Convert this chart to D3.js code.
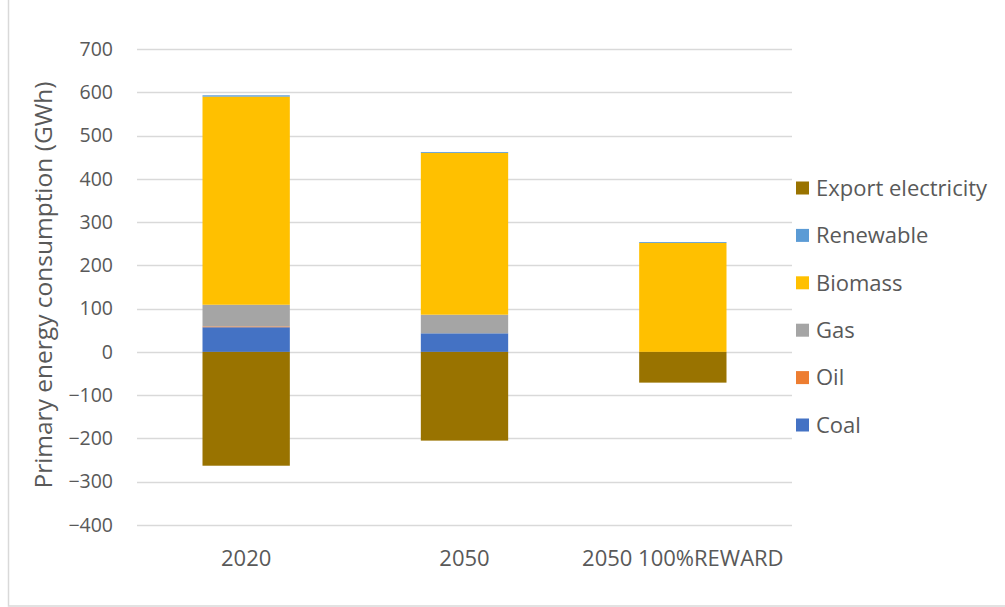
<!DOCTYPE html>
<html>
<head>
<meta charset="utf-8">
<script src="https://cdn.jsdelivr.net/npm/d3@7"></script>
<style>
  html, body { margin: 0; padding: 0; background: #fff; }
  svg { display: block; }
  text { font-family: "Open Sans", "Noto Sans", sans-serif; fill: #595959; }
</style>
</head>
<body>
<svg id="chart" width="1005" height="607"></svg>
<script>
// Scenarios on the x axis
const categories = ["2020", "2050", "2050 100%REWARD"];

// Primary energy consumption per source (GWh)
const coal       = [57, 43, 0];
const oil        = [2, 0, 0];
const gas        = [50, 43, 0];
const biomass    = [481, 374, 252];
const renewable  = [3, 2, 2];
const exportElec = [-263, -205, -71];

const yTicks = [-400, -300, -200, -100, 0, 100, 200, 300, 400, 500, 600, 700];

const seriesNames  = ["Coal", "Oil", "Gas", "Biomass", "Renewable", "Export electricity"];
const seriesColors = ["#4472C4", "#ED7D31", "#A5A5A5", "#FFC000", "#5B9BD5", "#997300"];
const seriesValues = [coal, oil, gas, biomass, renewable, exportElec];

const rows = categories.map((c, i) => {
  const r = { category: c };
  seriesNames.forEach((n, k) => { r[n] = seriesValues[k][i]; });
  return r;
});

const svg = d3.select("#chart");

// outer chart frame
svg.append("rect")
  .attr("x", 8.5).attr("y", -5)
  .attr("width", 1010).attr("height", 611)
  .attr("fill", "none").attr("stroke", "#D9D9D9").attr("stroke-width", 1.5);

const plot = { left: 137, right: 792, top: 49, bottom: 525 };

const x = d3.scaleBand()
  .domain(categories)
  .range([plot.left, plot.right])
  .paddingInner(0.6)
  .paddingOuter(0.3);

const y = d3.scaleLinear()
  .domain([-400, 700])
  .range([plot.bottom, plot.top]);

// horizontal gridlines
svg.append("g")
  .selectAll("line")
  .data(yTicks)
  .join("line")
  .attr("x1", plot.left).attr("x2", plot.right)
  .attr("y1", d => Math.round(y(d)) + 0.5)
  .attr("y2", d => Math.round(y(d)) + 0.5)
  .attr("stroke", "#D9D9D9").attr("stroke-width", 1.3);

// y axis labels
const yAxis = d3.axisLeft(y).tickValues(yTicks).tickSize(0).tickPadding(0);
const gy = svg.append("g").attr("transform", `translate(${plot.left - 24},0)`).call(yAxis);
gy.select(".domain").remove();
gy.selectAll("text")
  .style("font-size", "19.5px")
  .style("font-family", "'Open Sans', sans-serif")
  .attr("fill", "#595959");

// y axis title
svg.append("text")
  .attr("transform", `translate(52,${285}) rotate(-90)`)
  .attr("text-anchor", "middle")
  .style("font-size", "24.5px")
  .text("Primary energy consumption (GWh)");

// stacked bars (positive values stack up, negatives stack down)
const stack = d3.stack()
  .keys(seriesNames)
  .offset(d3.stackOffsetDiverging);
const layers = stack(rows);

const g = svg.append("g");
layers.forEach((layer, k) => {
  g.append("g")
    .attr("fill", seriesColors[k])
    .selectAll("rect")
    .data(layer.filter(d => d[1] !== d[0]))
    .join("rect")
    .attr("x", d => x(d.data.category))
    .attr("width", x.bandwidth())
    .attr("y", d => y(Math.max(d[0], d[1])))
    .attr("height", d => Math.abs(y(d[0]) - y(d[1])));
});

// category labels
svg.append("g")
  .selectAll("text")
  .data(categories)
  .join("text")
  .attr("x", d => x(d) + x.bandwidth() / 2)
  .attr("y", 566)
  .attr("text-anchor", "middle")
  .style("font-size", "22px")
  .text(d => d);

// legend, top to bottom in reverse stacking order
const legendOrder = seriesNames.map((n, k) => ({ name: n, color: seriesColors[k] })).reverse();
const legend = svg.append("g")
  .selectAll("g")
  .data(legendOrder)
  .join("g")
  .attr("transform", (d, i) => `translate(796,${188 + i * 47.4})`);
legend.append("rect")
  .attr("x", 0).attr("y", -6.5)
  .attr("width", 13).attr("height", 13)
  .attr("fill", d => d.color);
legend.append("text")
  .attr("x", 20).attr("y", 0)
  .attr("dy", "0.35em")
  .style("font-size", "22px")
  .text(d => d.name);
</script>
</body>
</html>
